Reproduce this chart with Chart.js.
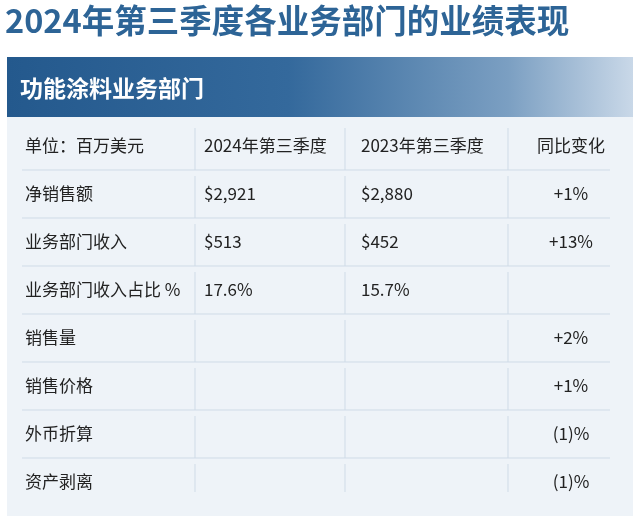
<!DOCTYPE html>
<html><head><meta charset="utf-8">
<script src="https://cdn.jsdelivr.net/npm/chart.js@4"></script>
<style>html,body{margin:0;padding:0;background:#fff}#w{width:640px;height:516px}</style>
</head><body><div id="w"><canvas id="c"></canvas></div>
<script>
const title = '2024年第三季度各业务部门的业绩表现';
const segment = '功能涂料业务部门';
const headers = ['单位：百万美元', '2024年第三季度', '2023年第三季度', '同比变化'];
const rowLabels = ['净销售额', '业务部门收入', '业务部门收入占比 %', '销售量', '销售价格', '外币折算', '资产剥离'];
const q3_2024 = ['$2,921', '$513', '17.6%', '', '', '', ''];
const q3_2023 = ['$2,880', '$452', '15.7%', '', '', '', ''];
const yoyChange = ['+1%', '+13%', '', '+2%', '+1%', '(1)%', '(1)%'];

const colX = [25, 204, 361, 0];
const colCenter3 = 571;
const vLines = [195, 345, 508];
const FONT = '"Noto Sans CJK SC","Noto Sans",sans-serif';

const tablePlugin = {
  id: 'tbl',
  beforeDraw(chart) {
    const ctx = chart.ctx;
    ctx.save();
    ctx.fillStyle = '#ffffff'; ctx.fillRect(0,0,640,516);
    ctx.fillStyle = '#2d6496';
    ctx.font = 'bold 32.5px ' + FONT;
    ctx.textBaseline = 'middle';
    ctx.fillText(title, 5, 21);
    ctx.fillStyle = '#eef3f8';
    ctx.fillRect(7, 117, 626, 399);
    const g = ctx.createLinearGradient(7, 0, 633, 0);
    g.addColorStop(0, '#24598d'); g.addColorStop(0.45, '#34699c');
    g.addColorStop(0.8, '#7b9fc2'); g.addColorStop(1, '#c9d8e8');
    ctx.fillStyle = g;
    ctx.fillRect(7, 57, 626, 60);
    ctx.fillStyle = '#ffffff';
    ctx.font = 'bold 23px ' + FONT;
    ctx.fillText(segment, 20, 88);
    ctx.restore();
  },
  afterDraw(chart) {
    const ctx = chart.ctx, y = chart.scales.y;
    const n = y.ticks.length;
    const step = y.getPixelForValue(1) - y.getPixelForValue(0);
    ctx.save();
    ctx.strokeStyle = '#cfdbe7'; ctx.lineWidth = 1;
    for (let i = 0; i < n; i++) {
      const cy = y.getPixelForValue(i);
      if (i < n - 1) { ctx.beginPath(); ctx.moveTo(22, cy + step/2); ctx.lineTo(610, cy + step/2); ctx.stroke(); }
      vLines.forEach(x => { ctx.beginPath(); ctx.moveTo(x, cy - step/2 + 6); ctx.lineTo(x, cy + step/2 - (i===n-1?14:0)); ctx.stroke(); });
    }
    ctx.fillStyle = '#222';
    ctx.font = '17px ' + FONT;
    ctx.textBaseline = 'middle';
    for (let i = 0; i < n; i++) {
      const cy = y.getPixelForValue(i);
      const cells = i === 0 ? headers : [rowLabels[i-1], q3_2024[i-1], q3_2023[i-1], yoyChange[i-1]];
      for (let c = 0; c < 4; c++) {
        if (c === 3) { ctx.textAlign = 'center'; ctx.fillText(cells[c], colCenter3, cy); }
        else { ctx.textAlign = 'left'; ctx.fillText(cells[c], colX[c], cy); }
      }
    }
    ctx.restore();
  }
};

new Chart(document.getElementById('c'), {
  type: 'scatter',
  data: { labels: ['header'].concat(rowLabels), datasets: [{ data: [], pointRadius: 0 }] },
  options: {
    responsive: true, maintainAspectRatio: false, animation: false,
    layout: { padding: { top: 122, bottom: 10, left: 0, right: 0 } },
    plugins: { legend: { display: false }, tooltip: { enabled: false } },
    scales: {
      x: { type: 'linear', min: 0, max: 640, display: false },
      y: { type: 'category', offset: true, display: false }
    }
  },
  plugins: [tablePlugin]
});
</script></body></html>
